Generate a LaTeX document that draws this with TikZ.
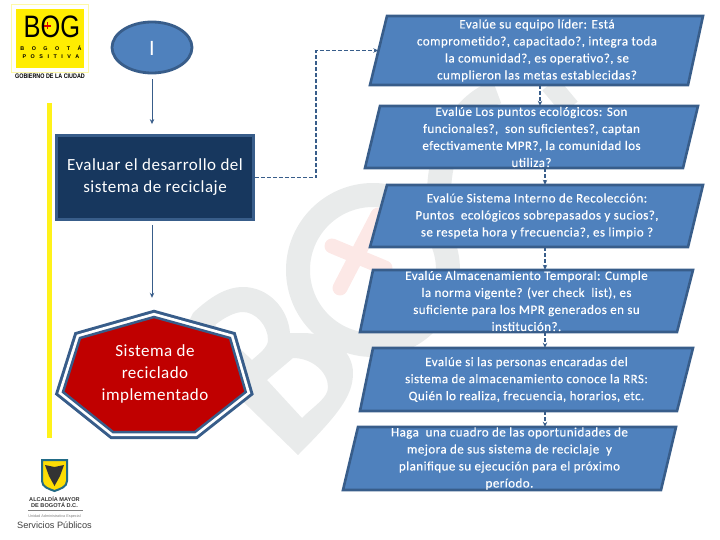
\documentclass[tikz,border=0pt]{standalone}
\usepackage{fontspec}
\setmainfont{Carlito}
\newfontfamily\logofont{Liberation Sans}
\newfontfamily\evalfont[LetterSpace=3.5,FakeBold=0.3]{Carlito}
\newfontfamily\bigfont[LetterSpace=3]{Carlito}
\usetikzlibrary{arrows.meta,shapes.geometric}
\definecolor{boxblue}{HTML}{4F81BD}
\definecolor{edgeblue}{HTML}{385D8A}
\definecolor{darkblue}{HTML}{17375E}
\definecolor{sysred}{HTML}{C00000}
\definecolor{baryellow}{HTML}{FFF21A}
\definecolor{markgray}{HTML}{E9EBEB}
\definecolor{markpink}{HTML}{FCE8E6}
\newcommand{\heptpath}{(154,317) -- (230,338) -- (245.7,392) -- (195,432) -- (113,432) -- (63,392) -- (80,338) -- cycle}
\tikzset{
	evalbox/.style = {draw = edgeblue, line width = 2.6pt, fill = boxblue},
	evaltext/.style = {text = white, align = center, inner sep = 0pt, font = \evalfont\fontsize{13}{17}\selectfont, execute at begin node = {\rule{0pt}{13pt}}},
	bigtext/.style = {text = white, align = center, inner sep = 0pt, font = \bigfont\fontsize{17}{22}\selectfont, execute at begin node = {\rule{0pt}{16pt}}},
	flow/.style = {draw = edgeblue, line width = 1pt, -{Stealth[length = 5pt, width = 4.5pt]}},
	dashflow/.style = {flow, line width = 1.5pt, dash pattern = on 4pt off 2pt},
	markring/.style = {draw = markgray, line width = 24pt}
}
\begin{document}
\begin{tikzpicture}[x = 1pt, y = -1pt]
	\useasboundingbox (0,0) rectangle (720,540);
	% watermark
	\draw [markring] (373,270) circle (75);
	\draw [markring] (439,190) .. controls (441,140) and (465,103) .. (497,92);
	\draw [markring, line width = 20pt] (550,84) -- (570,108);
	\draw [markpink, line width = 15pt, line cap = round] (332,246) -- (385,268);
	\draw [markpink, line width = 15pt, line cap = round] (340,288) -- (378,215);
	\fill [markgray, even odd rule] (193,313) .. controls (210,297) and (226,287) .. (243,287) .. controls (268,287) and (288,308) .. (290,333) .. controls (294,333) and (299,333) .. (303,333) .. controls (330,333) and (353,350) .. (353,373) .. controls (353,395) and (340,413) .. (298,455) -- (180,340) -- cycle
		(243,312) .. controls (255,312) and (268,325) .. (268,340) .. controls (268,347) and (260,353) .. (252,360) -- (215,325) .. controls (225,317) and (235,312) .. (243,312) -- cycle
		(293,358) .. controls (312,358) and (328,372) .. (328,387) .. controls (328,398) and (315,405) .. (302,418) -- (267,380) -- cycle;
	% side bar
	\draw [baryellow, line width = 5.5pt] (49.5,103) -- (49.5,438);
	% left column
	\node [draw = edgeblue, line width = 2.8pt, fill = boxblue, shape = ellipse, minimum width = 80pt, minimum height = 51pt, inner sep = 0pt, bigtext] (inicio) at (152,47.5) {\fontsize{22}{22}\selectfont I};
	\node [draw = edgeblue, line width = 2.8pt, fill = darkblue, minimum width = 197pt, minimum height = 84pt, bigtext] (evaluar) at (155,177.5) {Evaluar el desarrollo del\\sistema de reciclaje};
	\draw [edgeblue, line width = 14pt, miter limit = 10] \heptpath;
	\draw [white, line width = 8pt, miter limit = 10] \heptpath;
	\draw [edgeblue, fill = sysred, line width = 2.5pt, miter limit = 10] \heptpath;
	\node [minimum width = 197pt, minimum height = 130pt, bigtext] (sistema) at (155,374) {Sistema de\\reciclado\\implementado};
	\draw [flow, shorten <= 5pt, shorten >= 10pt] (inicio.south) -- (evaluar.north -| inicio.south);
	\draw [flow, shorten <= 4pt, shorten >= 11pt] (evaluar.south -| inicio.south) -- (sistema.north -| inicio.south);
	% right column
	\draw [evalbox] (387,16) -- (703,16) -- (688,85) -- (370,85) -- cycle;
	\draw [evalbox] (380,106) -- (698,106) -- (683,168) -- (365,168) -- cycle;
	\draw [evalbox] (387,185) -- (703,185) -- (688,247) -- (370,247) -- cycle;
	\draw [evalbox] (373,270) -- (693,270) -- (677,332) -- (360,332) -- cycle;
	\draw [evalbox] (373,348) -- (693,348) -- (677,411) -- (360,411) -- cycle;
	\draw [evalbox] (358,427) -- (676,427) -- (661,490) -- (343,490) -- cycle;
	\node [evaltext, minimum width = 317pt, minimum height = 69pt] (lider) at (537,50.5) {Evalúe su equipo líder: Está\\comprometido?, capacitado?, integra toda\\la comunidad?, es operativo?, se\\cumplieron las metas establecidas?};
	\node [evaltext, minimum width = 318pt, minimum height = 62pt] (puntos) at (531.5,137) {Evalúe Los puntos ecológicos: Son\\funcionales?,\ \ son suficientes?, captan\\efectivamente MPR?, la comunidad los\\utiliza?};
	\node [evaltext, minimum width = 317pt, minimum height = 62pt] (interno) at (537,216) {Evalúe Sistema Interno de Recolección:\\Puntos\ \ ecológicos sobrepasados y sucios?,\\se respeta hora y frecuencia?, es limpio ?};
	\node [evaltext, minimum width = 318pt, minimum height = 62pt] (temporal) at (526.5,301) {Evalúe Almacenamiento Temporal: Cumple\\la norma vigente? (ver check\ \ list), es\\suficiente para los MPR generados en su\\institución?.};
	\node [evaltext, minimum width = 318pt, minimum height = 63pt] (personas) at (526.5,379.5) {Evalúe si las personas encaradas del\\sistema de almacenamiento conoce la RRS:\\Quién lo realiza, frecuencia, horarios, etc.};
	\node [evaltext, minimum width = 318pt, minimum height = 63pt] (cuadro) at (509.5,458.5) {Haga\ \ una cuadro de las oportunidades de\\mejora de sus sistema de reciclaje\ \ y\\planifique su ejecución para el próximo\\período.};
	\coordinate (giro) at (316,50.5);
	\draw [dashflow] (evaluar.east) -| (giro) -- (lider.west);
	\draw [dashflow] ([xshift = 3pt]lider.south) -- ([xshift = 8.5pt]puntos.north);
	\draw [dashflow] ([xshift = 13.5pt]puntos.south) -- ([xshift = 8pt]interno.north);
	\draw [dashflow] ([xshift = 8pt]interno.south) -- ([xshift = 18.5pt]temporal.north);
	\draw [dashflow] ([xshift = 18.5pt]temporal.south) -- ([xshift = 18.5pt]personas.north);
	\draw [dashflow] ([xshift = 18.5pt]personas.south) -- ([xshift = 35.5pt]cuadro.north);
	% logo top
	\draw [draw = yellow!35, line width = 0.8pt, fill = white] (11,4) rectangle (88,72);
	\node [fill = yellow!95!orange, minimum width = 68pt, minimum height = 59pt, inner sep = 0pt] (logoback) at (50,38.5) {};
	\node [inner sep = 0pt, font = \logofont\fontsize{31}{31}\selectfont] (logobog) at (52,27) {\scalebox{0.82}[1]{BOG}};
	\draw [red!85!black, line width = 1.3pt] (44,26) -- (50.5,26) (47.3,22.5) -- (47.3,29.5);
	\node [inner sep = 0pt, font = \logofont\bfseries\fontsize{5.4}{5}\selectfont] (logobogota) at (51,48) {B\ \ \ \ \ O\ \ \ \ \ G\ \ \ \ \ O\ \ \ \ \ T\ \ \ \ \ Á};
	\node [inner sep = 0pt, font = \logofont\bfseries\fontsize{5.4}{5}\selectfont] (logopositiva) at (51,57) {P\ \ \ O\ \ \ S\ \ \ I\ \ \ T\ \ \ I\ \ \ V\ \ \ A};
	\node [inner sep = 0pt, font = \logofont\bfseries\fontsize{6.6}{7}\selectfont] (logogobierno) at (50,76) {\scalebox{0.82}[1]{GOBIERNO DE LA CIUDAD}};
	% logo bottom
	\draw [draw = edgeblue!60!teal, line width = 2pt, fill = yellow!80!orange] (42,460) -- (67,460) -- (67,481) .. controls (67,487) and (60,489) .. (54.5,491) .. controls (49,489) and (42,487) .. (42,481) -- cycle;
	\fill [black!80] (54.5,467) -- (64,465) -- (60,476) -- (54.5,486) -- (49,476) -- (45,465) -- cycle;
	\node [inner sep = 0pt, align = center, text = black!80, font = \logofont\bfseries\fontsize{5.6}{6.3}\selectfont] (alcaldia) at (54.5,502) {ALCALDÍA MAYOR\\DE BOGOTÁ D.C.};
	\draw [gray, line width = 0.5pt] (28,510.5) -- (83,510.5);
	\node [inner sep = 0pt, text = gray, font = \logofont\fontsize{3.8}{4}\selectfont] (unidad) at (54.5,517) {Unidad Administrativa Especial};
	\node [inner sep = 0pt, text = black!75, font = \logofont\fontsize{9.2}{10}\selectfont] (servicios) at (54.5,525) {Servicios Públicos};
\end{tikzpicture}
\end{document}
